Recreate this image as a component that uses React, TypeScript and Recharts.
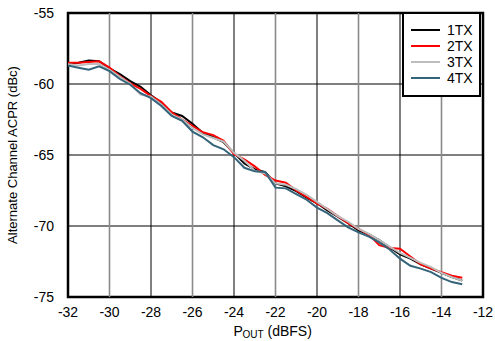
import React from 'react';
import {
  LineChart,
  Line,
  XAxis,
  YAxis,
  CartesianGrid,
  ReferenceLine,
  ReferenceArea,
  Label,
} from 'recharts';

// Output power (dBFS)
const pout = [
  -32, -31.5, -31, -30.5, -30, -29.5, -29, -28.5, -28, -27.5, -27, -26.5, -26,
  -25.5, -25, -24.5, -24, -23.5, -23, -22.5, -22, -21.5, -21, -20.5, -20,
  -19.5, -19, -18.5, -18, -17.5, -17, -16.5, -16, -15.5, -15, -14.5, -14,
  -13.5, -13,
];

// Alternate channel ACPR (dBc) per TX count
const tx1 = [
  -58.6, -58.5, -58.35, -58.4, -58.9, -59.3, -59.8, -60.2, -60.8, -61.3, -62.0,
  -62.25, -62.8, -63.45, -63.75, -64.1, -64.85, -65.6, -66.0, -66.2, -67.0,
  -67.2, -67.55, -68.0, -68.4, -68.9, -69.35, -69.8, -70.3, -70.6, -71.0,
  -71.5, -72.0, -72.3, -72.7, -73.0, -73.3, -73.6, -73.85,
];
const tx2 = [
  -58.5, -58.5, -58.45, -58.4, -58.85, -59.45, -59.95, -60.35, -60.85, -61.25,
  -62.0, -62.5, -62.95, -63.4, -63.6, -64.0, -64.95, -65.3, -65.8, -66.4,
  -66.8, -66.95, -67.5, -67.95, -68.4, -68.8, -69.3, -69.8, -70.2, -70.6,
  -71.35, -71.55, -71.6, -72.15, -72.7, -73.0, -73.25, -73.5, -73.65,
];
const tx3 = [
  -58.6, -58.7, -58.6, -58.6, -59.0, -59.5, -60.0, -60.75, -60.9, -61.45,
  -62.15, -62.5, -63.1, -63.55, -63.8, -64.05, -64.85, -65.4, -66.1, -66.3,
  -67.0, -67.1, -67.4, -67.8, -68.3, -68.8, -69.3, -69.7, -70.2, -70.55,
  -71.0, -71.45, -71.9, -72.25, -72.6, -72.9, -73.3, -73.6, -73.85,
];
const tx4 = [
  -58.7, -58.85, -59.0, -58.75, -59.1, -59.65, -60.05, -60.65, -61.0, -61.55,
  -62.25, -62.6, -63.35, -63.75, -64.3, -64.6, -65.15, -65.9, -66.15, -66.2,
  -67.3, -67.35, -67.75, -68.15, -68.7, -69.1, -69.6, -70.1, -70.45, -70.75,
  -71.15, -71.65, -72.3, -72.8, -73.0, -73.25, -73.65, -73.95, -74.1,
];

const xTicks = [-32, -30, -28, -26, -24, -22, -20, -18, -16, -14, -12];
const yTicks = [-75, -70, -65, -60, -55];

const series = [
  { key: 'tx1', name: '1TX', color: '#000000' },
  { key: 'tx2', name: '2TX', color: '#ff0000' },
  { key: 'tx3', name: '3TX', color: '#bdbdbd' },
  { key: 'tx4', name: '4TX', color: '#34647a' },
];

const data = pout.map((p, i) => ({
  pout: p,
  tx1: tx1[i],
  tx2: tx2[i],
  tx3: tx3[i],
  tx4: tx4[i],
}));

const font = '"Liberation Sans", Arial, sans-serif';

const LegendBox = () => (
  <div
    style={{
      position: 'absolute',
      left: 402,
      top: 12,
      width: 79,
      height: 85,
      border: '2px solid #000',
      background: '#fff',
      fontFamily: font,
      fontSize: 14,
      paddingTop: 8,
      boxSizing: 'border-box',
    }}
  >
    {series.map((s) => (
      <div key={s.key} style={{ display: 'flex', alignItems: 'center', height: 16 }}>
        <div style={{ width: 29, height: 2, background: s.color, marginLeft: 7 }} />
        <span style={{ marginLeft: 7, lineHeight: '16px' }}>{s.name}</span>
      </div>
    ))}
  </div>
);

// x title with subscript, laid out as three runs
const AxisTitle = ({ viewBox }: any) => {
  const cx = viewBox.x + viewBox.width / 2;
  return (
    <g fontSize={14} fontFamily={font} fill="#000">
      <text x={cx - 42} y={336}>P</text>
      <text x={cx - 33} y={338} fontSize={10}>OUT</text>
      <text x={cx - 8} y={336}>(dBFS)</text>
    </g>
  );
};

const App = () => {
  return (
    <div
      style={{
        position: 'absolute',
        left: 0,
        top: 0,
        width: 495,
        height: 341,
        background: '#fff',
      }}
    >
      <LineChart
        width={495}
        height={341}
        data={data}
        margin={{ top: 13, right: 12, left: 0, bottom: 0 }}
      >
        <CartesianGrid vertical={false} stroke="#000" strokeWidth={1} horizontalValues={[-70, -65, -60]} />
        {xTicks.slice(1, -1).map((t, i) => (
          <ReferenceLine
            key={t}
            x={t}
            stroke={i % 2 === 0 ? '#8a8a8a' : '#000'}
            strokeWidth={i % 2 === 0 ? 1.6 : 1}
          />
        ))}
        <XAxis
          dataKey="pout"
          type="number"
          domain={[-32, -12]}
          ticks={xTicks}
          axisLine={false}
          tickLine={false}
          tickMargin={4}
          height={44}
          tick={{ fill: '#000', fontSize: 14, fontFamily: font }}
        >
          <Label position="insideBottom" content={AxisTitle} />
        </XAxis>
        <YAxis
          type="number"
          domain={[-75, -55]}
          ticks={yTicks}
          axisLine={false}
          tickLine={false}
          tickMargin={8}
          width={68}
          tick={{ fill: '#000', fontSize: 14, fontFamily: font }}
        >
          <Label
            value="Alternate Channel ACPR (dBc)"
            angle={-90}
            position="insideLeft"
            offset={12}
            style={{ textAnchor: 'middle', fontSize: 13, fontFamily: font, fill: '#000' }}
          />
        </YAxis>
        {series.map((s) => (
          <Line
            key={s.key}
            dataKey={s.key}
            name={s.name}
            stroke={s.color}
            strokeWidth={2}
            dot={false}
            type="linear"
            isAnimationActive={false}
          />
        ))}
        <ReferenceArea
          x1={-32}
          x2={-12}
          y1={-75}
          y2={-55}
          fill="none"
          stroke="#000"
          strokeWidth={2.5}
        />
      </LineChart>
      <LegendBox />
    </div>
  );
};

export default App;
